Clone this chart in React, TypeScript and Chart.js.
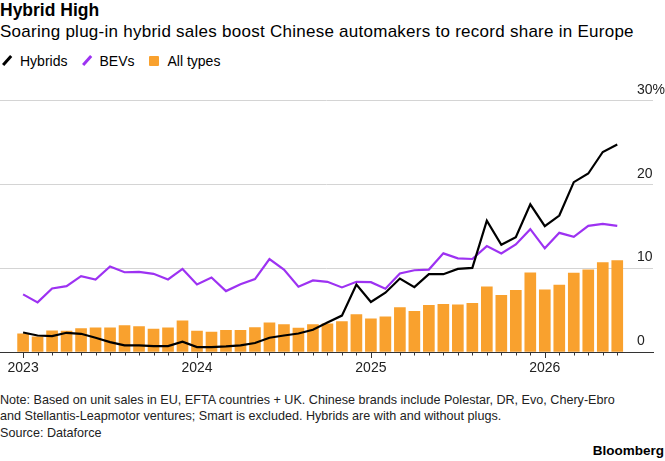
import React, { useEffect, useRef } from 'react';
import { Chart, registerables } from 'chart.js';

Chart.register(...registerables);

const months = [
  '2023-01', '2023-02', '2023-03', '2023-04', '2023-05', '2023-06',
  '2023-07', '2023-08', '2023-09', '2023-10', '2023-11', '2023-12',
  '2024-01', '2024-02', '2024-03', '2024-04', '2024-05', '2024-06',
  '2024-07', '2024-08', '2024-09', '2024-10', '2024-11', '2024-12',
  '2025-01', '2025-02', '2025-03', '2025-04', '2025-05', '2025-06',
  '2025-07', '2025-08', '2025-09', '2025-10', '2025-11', '2025-12',
  '2026-01', '2026-02', '2026-03', '2026-04', '2026-05', '2026-06',
];

const yearLabels = ['2023', '2024', '2025', '2026'];

const hybrids = [
  2.33, 1.97, 1.89, 2.29, 2.17, 1.7, 1.18, 0.79, 0.79, 0.71, 0.71, 1.22,
  0.59, 0.59, 0.67, 0.79, 1.07, 1.7, 1.97, 2.21, 2.65, 3.51, 4.34, 8.05,
  5.96, 7.07, 8.76, 7.74, 9.28, 9.28, 9.91, 10.03, 15.67, 12.79, 13.7, 17.61,
  15.0, 16.27, 20.25, 21.28, 23.85, 24.75,
];

const bevs = [
  6.87, 5.92, 7.58, 7.86, 9.04, 8.65, 10.19, 9.51, 9.55, 9.32, 8.65, 9.91,
  8.05, 8.88, 7.26, 8.09, 8.69, 11.09, 9.83, 7.78, 8.53, 8.37, 7.7, 8.37,
  8.33, 7.54, 9.36, 9.75, 9.83, 11.76, 11.17, 11.09, 12.63, 11.76, 12.83, 14.65,
  12.36, 14.21, 13.74, 15.04, 15.28, 15.04,
];

const allTypes = [
  2.17, 1.82, 2.53, 2.49, 2.8, 2.88, 2.88, 3.16, 3.04, 2.72, 2.88, 3.71,
  2.49, 2.37, 2.57, 2.57, 2.92, 3.47, 3.28, 2.84, 3.28, 3.36, 3.63, 4.46,
  3.95, 4.18, 5.29, 4.86, 5.57, 5.69, 5.61, 5.8, 7.78, 6.75, 7.34, 9.44,
  7.42, 7.97, 9.4, 9.79, 10.66, 10.9,
];

const yTicks = [0, 10, 20, 30];

const FONT = '"Liberation Sans", Arial, sans-serif';
const BLACK = '#000000';
const PURPLE = '#9D32F2';
const ORANGE = '#F9A12E';

const monthTicks = {
  id: 'monthTicks',
  afterDraw(chart: any) {
    const xs = chart.scales.x;
    const ctx = chart.ctx;
    const bottom = chart.chartArea.bottom;
    ctx.save();
    ctx.strokeStyle = '#333333';
    ctx.lineWidth = 1;
    months.forEach((m, i) => {
      const px = Math.round(xs.getPixelForValue(i)) + 0.5;
      const len = m.endsWith('-01') ? 6 : 3.5;
      ctx.beginPath();
      ctx.moveTo(px, bottom);
      ctx.lineTo(px, bottom + len);
      ctx.stroke();
    });
    ctx.restore();
  },
};

function ChartCanvas() {
  const ref = useRef<HTMLCanvasElement | null>(null);
  useEffect(() => {
    if (!ref.current) return;
    const toXY = (arr: number[]) => arr.map((v, i) => ({ x: i, y: v }));
    const chart = new Chart(ref.current, {
      type: 'bar',
      data: {
        datasets: [
          {
            type: 'line',
            label: 'Hybrids',
            data: toXY(hybrids),
            borderColor: BLACK,
            borderWidth: 2.2,
            pointRadius: 0,
            tension: 0,
            order: 0,
          } as any,
          {
            type: 'line',
            label: 'BEVs',
            data: toXY(bevs),
            borderColor: PURPLE,
            borderWidth: 2.2,
            pointRadius: 0,
            tension: 0,
            order: 1,
          } as any,
          {
            type: 'bar',
            label: 'All types',
            data: toXY(allTypes),
            backgroundColor: ORANGE,
            barThickness: 11,
            order: 2,
          } as any,
        ],
      },
      options: {
        animation: false,
        responsive: true,
        maintainAspectRatio: false,
        layout: { padding: { top: 18, left: 0, right: 0, bottom: 0 } },
        plugins: {
          legend: { display: false },
          tooltip: { enabled: false },
        },
        scales: {
          x: {
            type: 'linear',
            min: -1.057,
            max: 42.93,
            afterBuildTicks: (scale: any) => {
              scale.ticks = months.map((_, i) => ({ value: i }));
            },
            afterFit: (scale: any) => {
              scale.height = 28;
            },
            grid: {
              display: true,
              drawOnChartArea: false,
              drawTicks: true,
              tickLength: 6,
              tickColor: 'rgba(0,0,0,0)',
            },
            border: { display: true, color: '#333333', width: 1 },
            ticks: {
              autoSkip: false,
              maxRotation: 0,
              padding: 2,
              color: '#222222',
              font: { family: FONT, size: 14 },
              callback: (v: any) => {
                const i = Number(v);
                return i % 12 === 0 ? yearLabels[i / 12] : '';
              },
            },
          },
          y: {
            position: 'right',
            min: 0,
            max: 30,
            afterBuildTicks: (scale: any) => {
              scale.ticks = yTicks.map((v) => ({ value: v }));
            },
            afterFit: (scale: any) => {
              scale.width = 12;
            },
            grid: {
              color: '#d4d4d4',
              lineWidth: 1,
              drawTicks: false,
            },
            border: { display: false },
            ticks: {
              mirror: true,
              crossAlign: 'far',
              padding: 12,
              labelOffset: -10.5,
              color: '#222222',
              font: { family: FONT, size: 14 },
              callback: (v: any) => (Number(v) === 30 ? '30%' : String(v)),
            },
          },
        },
      } as any,
      plugins: [monthTicks],
    });
    return () => chart.destroy();
  }, []);
  return <canvas ref={ref} />;
}

const abs = (top: number, left: number, extra: React.CSSProperties = {}): React.CSSProperties => ({
  position: 'absolute',
  top,
  left,
  whiteSpace: 'nowrap',
  fontFamily: FONT,
  ...extra,
});

function LineIcon({ color }: { color: string }) {
  return (
    <span
      style={{
        display: 'inline-block',
        width: 12,
        height: 2.6,
        background: color,
        transform: 'rotate(-48deg)',
        verticalAlign: 'middle',
        position: 'relative',
        top: -1,
      }}
    />
  );
}

export default function App() {
  return (
    <div
      style={{
        position: 'absolute',
        left: 0,
        top: 0,
        width: 665,
        height: 461,
        background: '#ffffff',
        overflow: 'hidden',
        color: '#000',
      }}
    >
      <div style={abs(2.0, 0, { fontSize: 17.5, lineHeight: '17.5px', fontWeight: 700 })}>Hybrid High</div>
      <div style={abs(23.0, 0, { fontSize: 17, lineHeight: '17px', letterSpacing: '0.26px' })}>
        Soaring plug-in hybrid sales boost Chinese automakers to record share in Europe
      </div>
      <div style={abs(54.2, 0, { fontSize: 14, lineHeight: '14px', display: 'flex', alignItems: 'center' })}>
        <span style={{ display: 'inline-flex', alignItems: 'center', width: 12, marginLeft: 1 }}>
          <LineIcon color={BLACK} />
        </span>
        <span style={{ marginLeft: 7 }}>Hybrids</span>
        <span style={{ display: 'inline-flex', alignItems: 'center', width: 12, marginLeft: 14 }}>
          <LineIcon color={PURPLE} />
        </span>
        <span style={{ marginLeft: 6 }}>BEVs</span>
        <span
          style={{
            display: 'inline-block',
            width: 10,
            height: 10,
            background: ORANGE,
            marginLeft: 15,
            borderRadius: 1,
          }}
        />
        <span style={{ marginLeft: 8 }}>All types</span>
      </div>
      <div style={{ position: 'absolute', left: 0, top: 80, width: 665, height: 300 }}>
        <ChartCanvas />
      </div>
      <div style={abs(393.6, 0, { fontSize: 12.6, lineHeight: '12.6px', color: '#222' })}>
        Note: Based on unit sales in EU, EFTA countries + UK. Chinese brands include Polestar, DR, Evo, Chery-Ebro
      </div>
      <div style={abs(409.6, 0, { fontSize: 12.6, lineHeight: '12.6px', color: '#222' })}>
        and Stellantis-Leapmotor ventures; Smart is excluded. Hybrids are with and without plugs.
      </div>
      <div style={abs(427.1, 0, { fontSize: 12.6, lineHeight: '12.6px', color: '#222' })}>Source: Dataforce</div>
      <div
        style={abs(444.3, 0, {
          left: 'auto',
          right: 1,
          fontSize: 13.5,
          lineHeight: '13.5px',
          fontWeight: 700,
          color: '#000',
        })}
      >
        Bloomberg
      </div>
    </div>
  );
}
